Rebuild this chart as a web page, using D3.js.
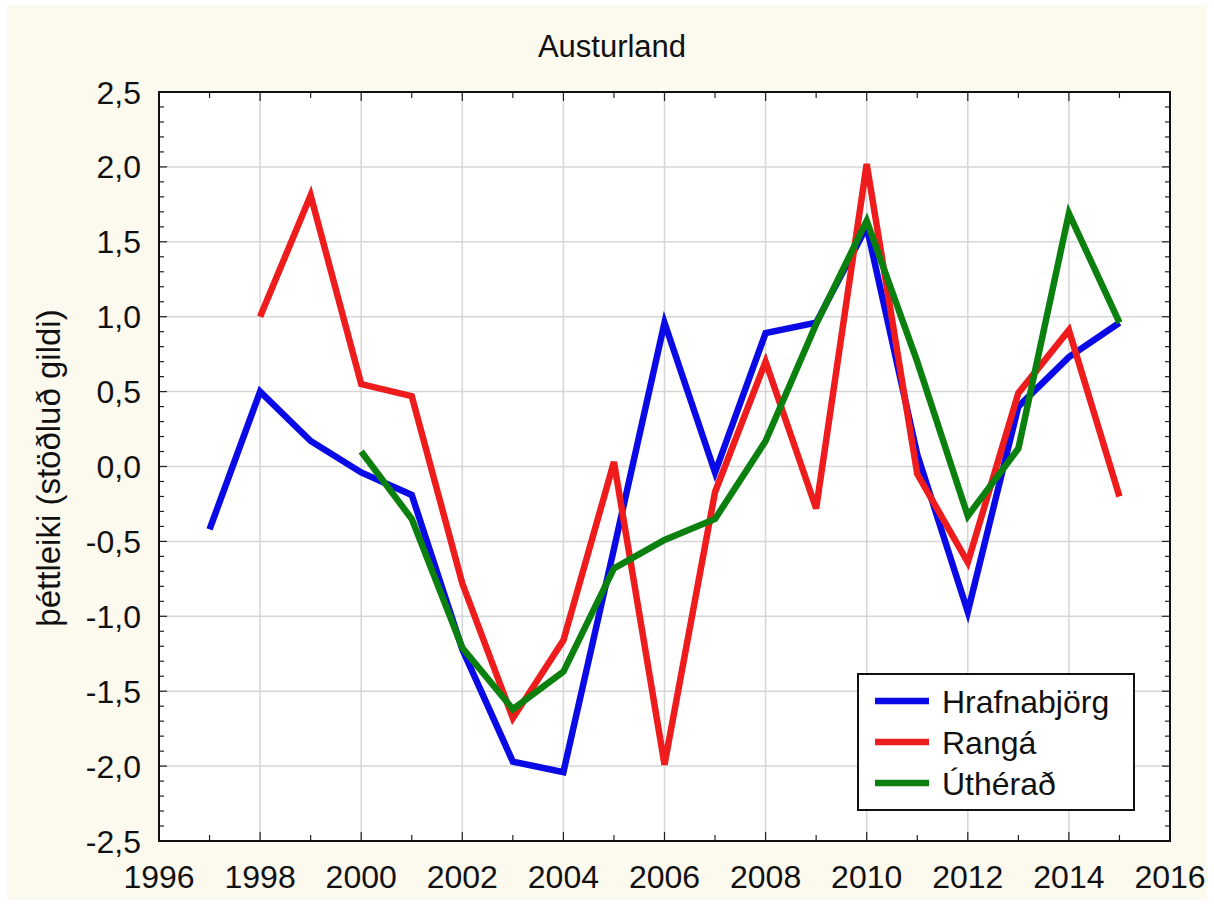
<!DOCTYPE html>
<html>
<head>
<meta charset="utf-8">
<script src="https://cdn.jsdelivr.net/npm/d3@7"></script>
<style>
  body { margin: 0; background: #ffffff; }
  svg { display: block; font-family: Arial, "Liberation Sans", sans-serif; }
</style>
</head>
<body>
<svg id="chart" width="1214" height="905"></svg>
<script>
const years = d3.range(1997, 2016);
const hrafnabjorg = [-0.42, 0.50, 0.17, -0.04, -0.19, -1.22, -1.97, -2.04, -0.55, 0.96, -0.04, 0.89, 0.96, 1.60, 0.08, -0.97, 0.40, 0.73, 0.96];
const ranga = [null, 1.00, 1.81, 0.55, 0.47, -0.78, -1.68, -1.16, 0.03, -1.99, -0.17, 0.70, -0.28, 2.02, -0.05, -0.64, 0.49, 0.91, -0.20];
const utherad = [null, null, null, 0.10, -0.35, -1.21, -1.62, -1.37, -0.68, -0.49, -0.35, 0.17, 0.95, 1.64, 0.70, -0.33, 0.12, 1.69, 0.96];
const seriesNames = ['Hrafnabjörg', 'Rangá', 'Úthérað'];
const seriesColors = ['#0a0ae6', '#ee1c1c', '#0b800f'];
const xTicks = d3.range(1996, 2017, 2);
const yTicks = [-2.5, -2, -1.5, -1, -0.5, 0, 0.5, 1, 1.5, 2, 2.5];

const svg = d3.select('#chart');
const width = +svg.attr('width');
const height = +svg.attr('height');
const margin = { top: 92, right: 44, bottom: 64, left: 159 };

// cream page background
svg.append('rect')
    .attr('x', 7).attr('y', 5)
    .attr('width', width - 14).attr('height', height - 10)
    .attr('fill', '#fcf9ef');

const xScale = d3.scaleLinear().domain([1996, 2016]).range([margin.left, width - margin.right]);
const yScale = d3.scaleLinear().domain([-2.5, 2.5]).range([height - margin.bottom, margin.top]);

svg.append('rect')
    .attr('x', xScale(1996)).attr('y', yScale(2.5))
    .attr('width', xScale(2016) - xScale(1996))
    .attr('height', yScale(-2.5) - yScale(2.5))
    .attr('fill', '#ffffff');

// grid
svg.append('g').selectAll('line')
    .data(xTicks.slice(1, -1))
    .enter().append('line')
    .attr('x1', d => xScale(d)).attr('x2', d => xScale(d))
    .attr('y1', yScale(2.5)).attr('y2', yScale(-2.5))
    .attr('stroke', '#d6d6d6').attr('stroke-width', 1.5);
svg.append('g').selectAll('line')
    .data(yTicks.slice(1, -1))
    .enter().append('line')
    .attr('y1', d => yScale(d)).attr('y2', d => yScale(d))
    .attr('x1', xScale(1996)).attr('x2', xScale(2016))
    .attr('stroke', '#d6d6d6').attr('stroke-width', 1.5);

// inward ticks on all four sides
const yMinor = d3.range(-25, 26).map(v => v / 10);
const xMinor = d3.range(1996, 2017);
const tickG = svg.append('g').attr('stroke', '#222').attr('stroke-width', 1.2);
yMinor.forEach(v => {
    const len = Math.abs(v * 2 - Math.round(v * 2)) < 1e-6 ? 8 : 5;
    tickG.append('line').attr('x1', xScale(1996)).attr('x2', xScale(1996) + len)
        .attr('y1', yScale(v)).attr('y2', yScale(v));
    tickG.append('line').attr('x1', xScale(2016)).attr('x2', xScale(2016) - len)
        .attr('y1', yScale(v)).attr('y2', yScale(v));
});
xMinor.forEach(v => {
    const len = v % 2 === 0 ? 9 : 6;
    tickG.append('line').attr('y1', yScale(-2.5)).attr('y2', yScale(-2.5) - len)
        .attr('x1', xScale(v)).attr('x2', xScale(v));
    tickG.append('line').attr('y1', yScale(2.5)).attr('y2', yScale(2.5) + len)
        .attr('x1', xScale(v)).attr('x2', xScale(v));
});

svg.append('rect')
    .attr('x', xScale(1996)).attr('y', yScale(2.5))
    .attr('width', xScale(2016) - xScale(1996))
    .attr('height', yScale(-2.5) - yScale(2.5))
    .attr('fill', 'none').attr('stroke', '#111').attr('stroke-width', 2);

// tick labels
const fmt = d => d3.format('.1f')(d).replace('.', ',').replace('−', '-');
svg.append('g').selectAll('text')
    .data(yTicks)
    .enter().append('text')
    .attr('x', margin.left - 18)
    .attr('y', d => yScale(d))
    .attr('dy', '0.36em')
    .attr('text-anchor', 'end')
    .attr('font-size', 32)
    .attr('fill', '#111')
    .text(fmt);
svg.append('g').selectAll('text')
    .data(xTicks)
    .enter().append('text')
    .attr('x', d => xScale(d))
    .attr('y', yScale(-2.5) + 47)
    .attr('text-anchor', 'middle')
    .attr('font-size', 32)
    .attr('fill', '#111')
    .text(d => d);

svg.append('text')
    .attr('x', 612).attr('y', 57)
    .attr('text-anchor', 'middle')
    .attr('font-size', 31)
    .attr('fill', '#111')
    .text('Austurland');

svg.append('text')
    .attr('transform', `translate(60, 468) rotate(-90)`)
    .attr('text-anchor', 'middle')
    .attr('font-size', 33)
    .attr('fill', '#111')
    .text('þéttleiki (stöðluð gildi)');

// series lines
const allSeries = [hrafnabjorg, ranga, utherad];
const line = d3.line()
    .defined(d => d.v !== null)
    .x(d => xScale(d.year))
    .y(d => yScale(d.v));
allSeries.forEach((vals, i) => {
    svg.append('path')
        .datum(years.map((y, j) => ({ year: y, v: vals[j] })))
        .attr('d', line)
        .attr('fill', 'none')
        .attr('stroke', seriesColors[i])
        .attr('stroke-width', 6.5)
        .attr('stroke-linejoin', 'miter');
});

// legend
const legend = svg.append('g').attr('transform', 'translate(858, 674)');
legend.append('rect')
    .attr('width', 276).attr('height', 136)
    .attr('fill', '#ffffff').attr('stroke', '#111').attr('stroke-width', 2);
seriesNames.forEach((name, i) => {
    const y = 27 + i * 41;
    legend.append('line')
        .attr('x1', 17).attr('x2', 71)
        .attr('y1', y).attr('y2', y)
        .attr('stroke', seriesColors[i]).attr('stroke-width', 6.5);
    legend.append('text')
        .attr('x', 84).attr('y', y)
        .attr('dy', '0.36em')
        .attr('font-size', 32)
        .attr('fill', '#111')
        .text(name);
});
</script>
</body>
</html>
